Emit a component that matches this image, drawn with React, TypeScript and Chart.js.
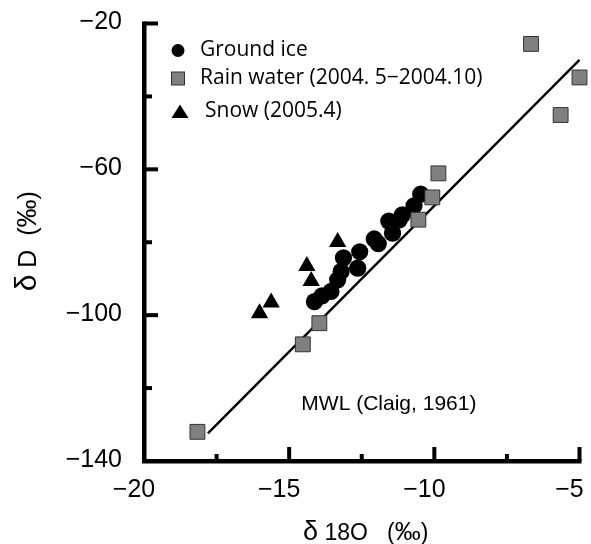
import React, { useEffect, useRef } from 'react';
import { Chart, registerables } from 'chart.js';

Chart.register(...registerables);

// ---- data ----
const groundIceO = [-14.13, -13.87, -13.56, -13.33, -13.21, -13.13, -12.64, -12.57, -12.07, -11.93, -11.57, -11.44, -11.21, -11.1, -10.7, -10.47];
const groundIceD = [-96.3, -94.7, -93.5, -90.3, -88.0, -84.3, -87.1, -82.6, -79.1, -80.4, -74.2, -77.5, -73.9, -72.5, -70.0, -66.8];
const rainO = [-18.16, -6.67, -5.0, -5.65, -9.86, -10.07, -10.55, -13.96, -14.53];
const rainD = [-132.0, -25.6, -34.8, -45.1, -61.1, -67.7, -73.8, -102.2, -108.0];
const snowO = [-16.02, -15.62, -14.39, -14.24, -13.33];
const snowD = [-99.5, -96.5, -86.5, -90.6, -79.9];
const mwlO = [-17.8, -5];
const mwlD = [-132.4, -30];

const xLabelValues = [-20, -15, -10, -5];
const xLabelTexts = ['−20', '−15', '−10', '−5'];
const yLabelValues = [-20, -60, -100, -140];
const yLabelTexts = ['−20', '−60', '−100', '−140'];
const xMajorTicks = [-15, -10, -5];
const xMinorTicks = [-17.5, -12.5, -7.5];
const yMajorTicks = [-20, -60, -100];
const yMinorTicks = [-40, -80, -120];
const seriesNames = ['Ground ice', 'Rain water (2004. 5−2004.10)', 'Snow (2005.4)'];
const xTitleParts = ['δ', ' 18O', '   (', '‰', ')'];
const yTitleParts = ['δ', ' ', 'D', '  (', '‰', ')'];
const mwlLabel = 'MWL (Claig, 1961)';
const mwlLabelO = -14.58;
const mwlLabelD = -124.4;

const pts = (xs: number[], ys: number[]) => xs.map((x, i) => ({ x, y: ys[i] }));

const LS = '"Liberation Sans", Arial, sans-serif';

function drawParts(ctx: CanvasRenderingContext2D, parts: string[], sizes: number[], cx: number, cy: number) {
  const widths = parts.map((p, i) => {
    ctx.font = `${sizes[i]}px ${LS}`;
    return ctx.measureText(p).width;
  });
  const total = widths.reduce((a, b) => a + b, 0);
  let x = cx - total / 2;
  ctx.textAlign = 'left';
  ctx.textBaseline = 'alphabetic';
  parts.forEach((p, i) => {
    ctx.font = `${sizes[i]}px ${LS}`;
    ctx.fillText(p, x, cy);
    x += widths[i];
  });
}

const decorPlugin = {
  id: 'decor',
  afterDraw(chart: any) {
    const ctx = chart.ctx as CanvasRenderingContext2D;
    const xs = chart.scales.x;
    const ys = chart.scales.y;
    const x0 = xs.getPixelForValue(-20);
    const x1 = xs.getPixelForValue(-5);
    const yb = ys.getPixelForValue(-140);
    const yt = ys.getPixelForValue(-20);
    ctx.save();
    ctx.fillStyle = '#000';
    // axes lines
    ctx.fillRect(x0 - 2, yt - 2, 4.5, yb - yt + 4);
    ctx.fillRect(x0 - 2, yb - 2, x1 - x0 + 4, 4.5);
    // ticks
    yMajorTicks.forEach((v) => {
      const p = ys.getPixelForValue(v);
      ctx.fillRect(x0, p - 2, 14, 4);
    });
    yMinorTicks.forEach((v) => {
      const p = ys.getPixelForValue(v);
      ctx.fillRect(x0, p - 2, 8, 4);
    });
    xMajorTicks.forEach((v) => {
      const p = xs.getPixelForValue(v);
      ctx.fillRect(p - 2, yb - 14, 4, 14);
    });
    xMinorTicks.forEach((v) => {
      const p = xs.getPixelForValue(v);
      ctx.fillRect(p - 2, yb - 7, 4, 7);
    });

    // tick labels
    ctx.font = `25px ${LS}`;
    ctx.textAlign = 'right';
    ctx.textBaseline = 'middle';
    yLabelValues.forEach((v, i) => {
      ctx.fillText(yLabelTexts[i], x0 - 22, ys.getPixelForValue(v) - 1);
    });
    ctx.textAlign = 'center';
    xLabelValues.forEach((v, i) => {
      ctx.fillText(xLabelTexts[i], xs.getPixelForValue(v) - 10, yb + 29);
    });

    // axis titles
    drawParts(ctx, xTitleParts, [27, 23, 23, 26, 23], (x0 + x1) / 2 + 4, yb + 79);
    ctx.save();
    ctx.translate(36, (yt + yb) / 2 - 1);
    ctx.rotate(-Math.PI / 2);
    drawParts(ctx, yTitleParts, [30, 25, 25, 25, 28, 25], 0, 0);
    ctx.restore();

    // MWL label
    ctx.font = `21px ${LS}`;
    ctx.textAlign = 'left';
    ctx.textBaseline = 'middle';
    ctx.fillText(mwlLabel, xs.getPixelForValue(mwlLabelO), ys.getPixelForValue(mwlLabelD));

    // legend
    const lx = x0 + 34;
    const rows = [yt + 27, yt + 55, yt + 88];
    ctx.beginPath();
    ctx.arc(lx, rows[0], 6.5, 0, Math.PI * 2);
    ctx.fill();
    ctx.fillStyle = '#808080';
    ctx.strokeStyle = '#333';
    ctx.lineWidth = 1;
    ctx.fillRect(lx - 6.5, rows[1] - 6.5, 13, 13);
    ctx.strokeRect(lx - 6.5, rows[1] - 6.5, 13, 13);
    ctx.fillStyle = '#000';
    ctx.beginPath();
    ctx.moveTo(lx + 2, rows[2] - 7);
    ctx.lineTo(lx + 10.5, rows[2] + 6.5);
    ctx.lineTo(lx - 6.5, rows[2] + 6.5);
    ctx.closePath();
    ctx.fill();
    ctx.font = '21px "Open Sans", sans-serif';
    ctx.textAlign = 'left';
    ctx.textBaseline = 'middle';
    ctx.fillText(seriesNames[0], lx + 22, rows[0]);
    ctx.fillText(seriesNames[1], lx + 22, rows[1]);
    ctx.fillText(seriesNames[2], lx + 27, rows[2]);
    ctx.restore();
  },
};

export default function App() {
  const ref = useRef<HTMLCanvasElement | null>(null);
  useEffect(() => {
    if (!ref.current) return;
    const chart = new Chart(ref.current, {
      type: 'scatter',
      data: {
        datasets: [
          {
            label: seriesNames[1],
            data: pts(rainO, rainD),
            pointStyle: 'rect',
            pointRadius: 10.5,
            backgroundColor: '#808080',
            borderColor: '#333333',
            borderWidth: 1,
            clip: false,
          },
          {
            label: seriesNames[0],
            data: pts(groundIceO, groundIceD),
            pointStyle: 'circle',
            pointRadius: 8.6,
            backgroundColor: '#000000',
            borderWidth: 0,
            clip: false,
          },
          {
            label: seriesNames[2],
            data: pts(snowO, snowD),
            pointStyle: 'triangle',
            pointRadius: 10,
            backgroundColor: '#000000',
            borderWidth: 0,
            clip: false,
          },
          {
            label: 'MWL',
            data: pts(mwlO, mwlD),
            showLine: true,
            pointRadius: 0,
            borderColor: '#000000',
            borderWidth: 2.4,
            clip: false,
          },
        ],
      } as any,
      options: {
        responsive: false,
        animation: false,
        devicePixelRatio: 1,
        events: [],
        layout: { padding: { left: 144, right: 10, top: 23.5, bottom: 83 } },
        scales: {
          x: { type: 'linear', min: -20, max: -5, display: false },
          y: { type: 'linear', min: -140, max: -20, display: false },
        },
        plugins: { legend: { display: false }, tooltip: { enabled: false } },
      } as any,
      plugins: [decorPlugin],
    });
    return () => chart.destroy();
  }, []);
  return (
    <div style={{ position: 'absolute', left: 0, top: 0, width: 591, height: 544, background: '#fff' }}>
      <canvas ref={ref} width={591} height={544} style={{ display: 'block' }} />
    </div>
  );
}
